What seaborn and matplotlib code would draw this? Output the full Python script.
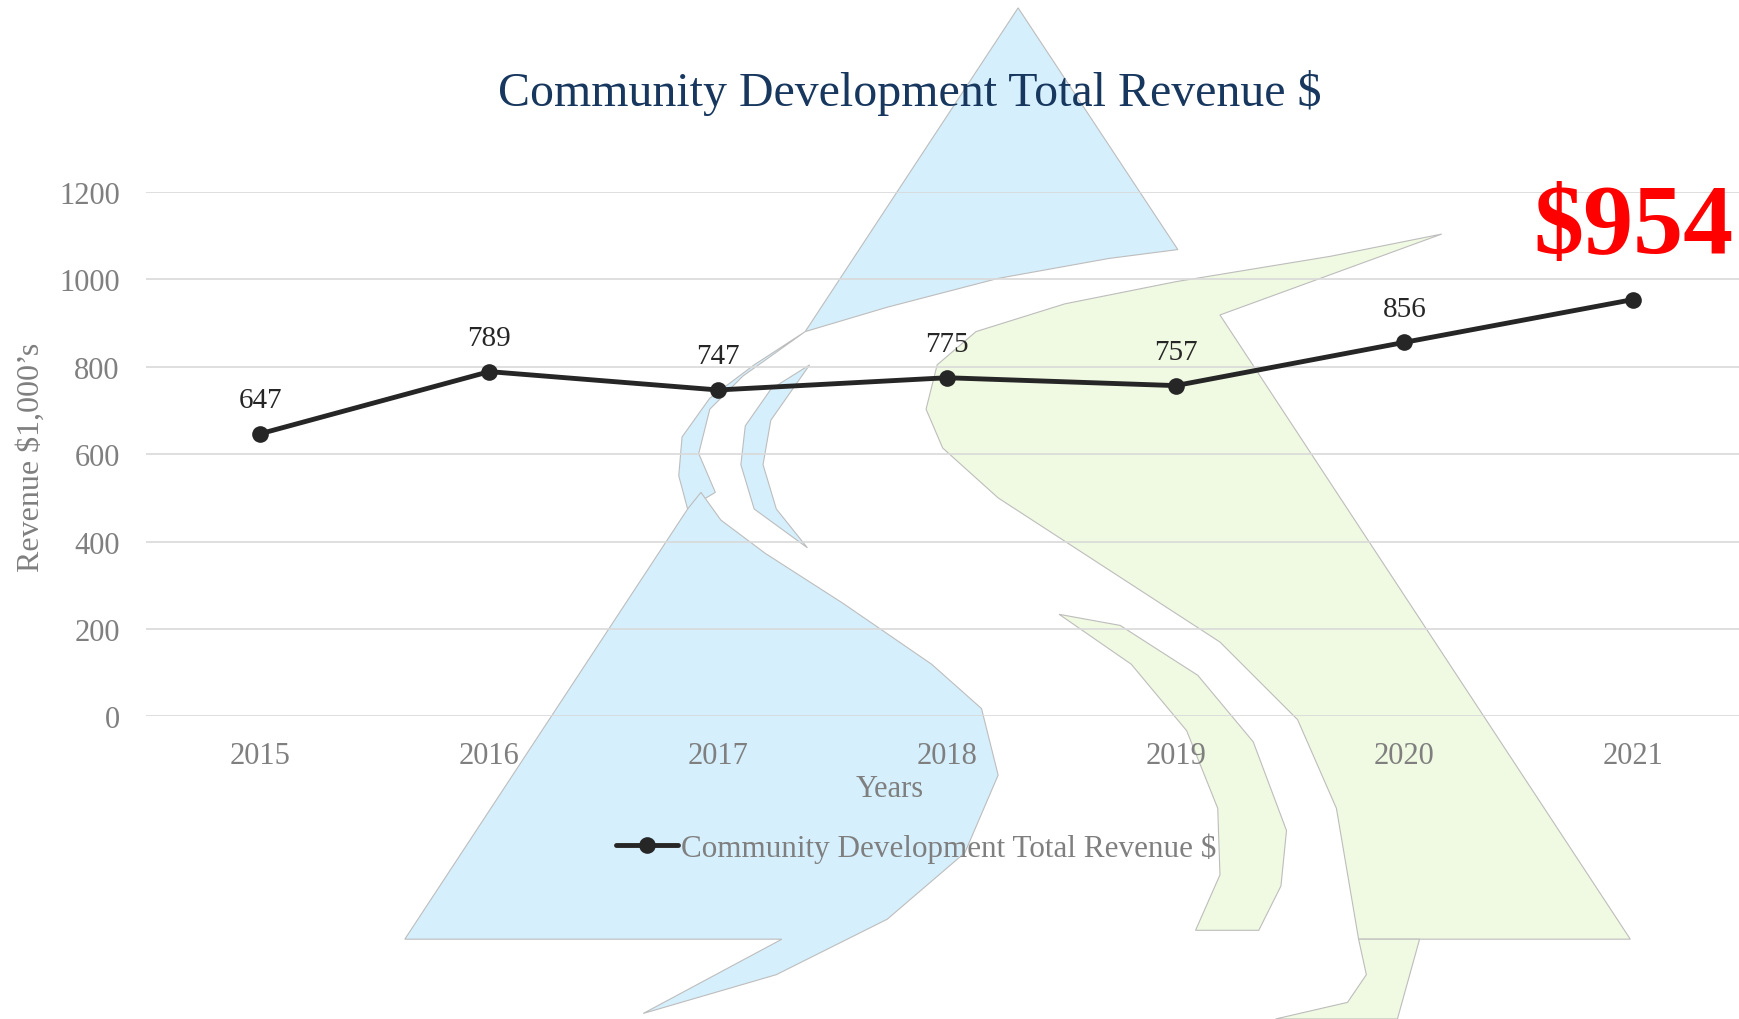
import numpy as np
import pandas as pd
import matplotlib
matplotlib.use('Agg')
import matplotlib.pyplot as plt
import seaborn as sns
from matplotlib.patches import Polygon

# data
years = ['2015', '2016', '2017', '2018', '2019', '2020', '2021']
revenue = [647, 789, 747, 775, 757, 856, 954]
series_name = 'Community Development Total Revenue $'

sns.set_theme(style='white')
plt.rcParams['font.family'] = ['Liberation Serif', 'DejaVu Serif']

df = pd.DataFrame({'Year': years, 'Revenue': revenue, 'Series': series_name})

fig = plt.figure(figsize=(17.39, 10.2), dpi=100)

# background logo (decorative), drawn in reference pixel space 1568x920
bg = fig.add_axes([0, 0, 1, 1], zorder=0)
bg.set_xlim(0, 1568)
bg.set_ylim(920, 0)
bg.axis('off')

blue = '#d6effc'
green = '#f0f9e1'
edge = '#bdbdbd'
shapes = [
    # upper blue wedge
    ([(918, 8), (1062, 226), (1000, 234), (900, 252), (800, 278), (726, 300)], blue),
    # thin blue stroke
    ([(726, 300), (680, 330), (640, 360), (615, 395), (612, 430), (620, 460),
      (645, 445), (630, 410), (640, 370), (670, 340), (726, 300)], blue),
    # blue crescent
    ([(730, 330), (695, 352), (672, 385), (668, 420), (680, 460), (728, 495),
      (700, 460), (688, 420), (695, 380), (730, 330)], blue),
    # lower blue body
    ([(620, 460), (365, 848), (705, 848), (580, 915), (700, 880), (800, 830),
      (870, 770), (900, 700), (885, 640), (840, 600), (760, 545), (690, 500),
      (650, 470), (632, 445)], blue),
    # big green blade
    ([(1300, 212), (1200, 232), (1060, 255), (960, 275), (880, 300), (845, 330),
      (835, 370), (850, 405), (900, 450), (1000, 515), (1100, 580), (1170, 650),
      (1205, 730), (1225, 848), (1470, 848), (1100, 285)], green),
    # green tail
    ([(1225, 848), (1232, 880), (1215, 905), (1150, 920), (1260, 920), (1280, 848)], green),
    # green crescent
    ([(955, 555), (1010, 565), (1080, 610), (1130, 670), (1160, 750), (1155, 800),
      (1135, 840), (1078, 840), (1100, 790), (1098, 730), (1070, 660), (1020, 600),
      (955, 555)], green),
]
for verts, col in shapes:
    bg.add_patch(Polygon(verts, closed=True, facecolor=col, edgecolor=edge, linewidth=0.8))

# main chart
ax = fig.add_axes([0.084, 0.2966, 0.921, 0.5142], zorder=1)
ax.patch.set_alpha(0)

sns.lineplot(data=df, x='Year', y='Revenue', hue='Series', palette=['#262626'],
             marker='o', markersize=12, linewidth=3.5, markeredgewidth=0,
             ax=ax, zorder=3, clip_on=False)

ax.set_xlim(-0.5, 6.5)
ax.set_ylim(0, 1200)
ax.set_yticks(range(0, 1201, 200))
ax.grid(axis='y', color='#d9d9d9', linewidth=1.2)
ax.grid(axis='x', visible=False)
for s in ax.spines.values():
    s.set_visible(False)
ax.tick_params(axis='both', length=0, labelsize=22, labelcolor='#7f7f7f')
ax.tick_params(axis='y', pad=19)
ax.tick_params(axis='x', pad=18)
ax.set_xlabel('Years', fontsize=22, color='#7f7f7f')
ax.xaxis.set_label_coords(0.464, -0.109)
ax.set_ylabel('')
fig.text(31 / 1739, 1 - 457 / 1020, "Revenue $1,000\u2019s", rotation=90,
         ha='center', va='center', fontsize=23, color='#7f7f7f')

for i, v in enumerate(revenue[:-1]):
    ax.annotate(str(v), (i, v), xytext=(0, 15), textcoords='offset points',
                ha='center', va='bottom', fontsize=21, color='#262626')
ax.annotate('$' + str(revenue[-1]), (6, revenue[-1]), xytext=(0, 19), textcoords='offset points',
            ha='center', va='bottom', fontsize=72, fontweight='bold', color='#ff0000')

fig.text(0.523, 0.909, series_name, ha='center', va='center', fontsize=34.5, color='#17375e')

leg = ax.legend(loc='center', frameon=False, fontsize=22.4, handlelength=2.0,
                handletextpad=0.1)
for t in leg.get_texts():
    t.set_color('#7f7f7f')
leg.set_bbox_to_anchor((0.527, 1 - 849 / 1020), transform=fig.transFigure)

fig.savefig('out.png', dpi=100)
